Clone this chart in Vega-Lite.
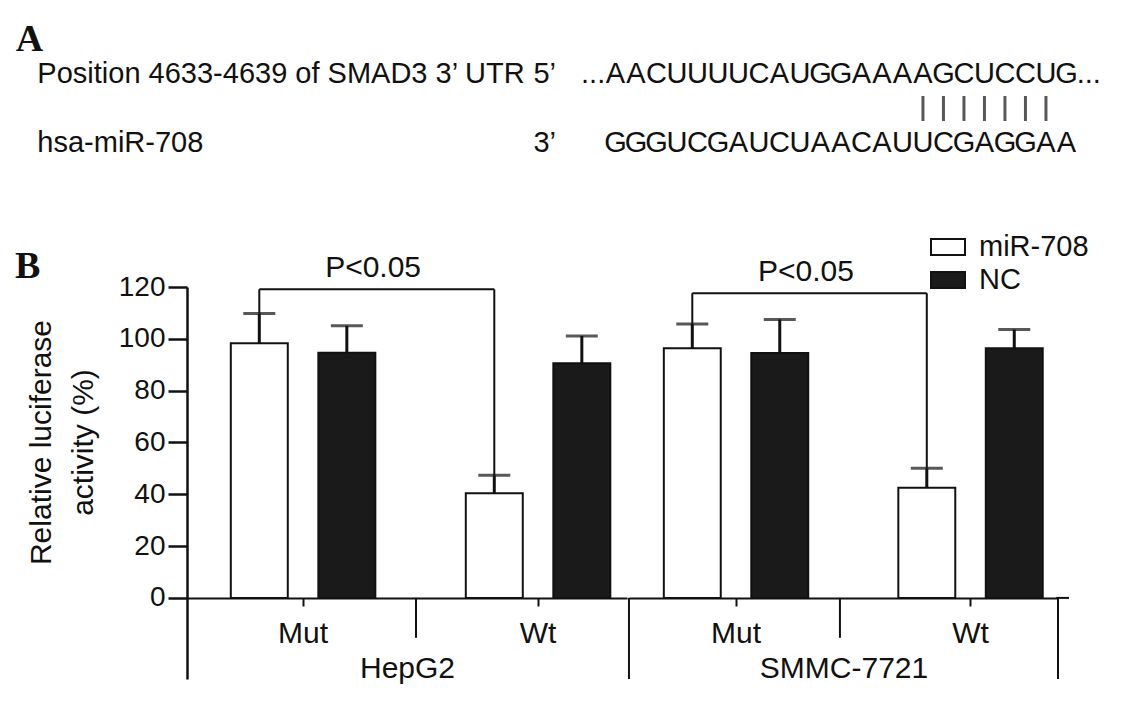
{
  "$schema": "https://vega.github.io/schema/vega-lite/v6.json",
  "background": "white",
  "padding": {"left": 15, "top": 21, "right": 5, "bottom": 5},
  "config": {"view": {"stroke": null}, "font": "Liberation Sans", "axis": {"grid": false}},
  "datasets": {
    "seq": [
      {"strand": "utr", "pos": 1, "base": "A"}, {"strand": "utr", "pos": 2, "base": "A"}, {"strand": "utr", "pos": 3, "base": "C"},
      {"strand": "utr", "pos": 4, "base": "U"}, {"strand": "utr", "pos": 5, "base": "U"}, {"strand": "utr", "pos": 6, "base": "U"},
      {"strand": "utr", "pos": 7, "base": "U"}, {"strand": "utr", "pos": 8, "base": "C"}, {"strand": "utr", "pos": 9, "base": "A"},
      {"strand": "utr", "pos": 10, "base": "U"}, {"strand": "utr", "pos": 11, "base": "G"}, {"strand": "utr", "pos": 12, "base": "G"},
      {"strand": "utr", "pos": 13, "base": "A"}, {"strand": "utr", "pos": 14, "base": "A"}, {"strand": "utr", "pos": 15, "base": "A"},
      {"strand": "utr", "pos": 16, "base": "A"}, {"strand": "utr", "pos": 17, "base": "G"}, {"strand": "utr", "pos": 18, "base": "C"},
      {"strand": "utr", "pos": 19, "base": "U"}, {"strand": "utr", "pos": 20, "base": "C"}, {"strand": "utr", "pos": 21, "base": "C"},
      {"strand": "utr", "pos": 22, "base": "U"}, {"strand": "utr", "pos": 23, "base": "G"},
      {"strand": "mir", "pos": 1, "base": "G"}, {"strand": "mir", "pos": 2, "base": "G"}, {"strand": "mir", "pos": 3, "base": "G"},
      {"strand": "mir", "pos": 4, "base": "U"}, {"strand": "mir", "pos": 5, "base": "C"}, {"strand": "mir", "pos": 6, "base": "G"},
      {"strand": "mir", "pos": 7, "base": "A"}, {"strand": "mir", "pos": 8, "base": "U"}, {"strand": "mir", "pos": 9, "base": "C"},
      {"strand": "mir", "pos": 10, "base": "U"}, {"strand": "mir", "pos": 11, "base": "A"}, {"strand": "mir", "pos": 12, "base": "A"},
      {"strand": "mir", "pos": 13, "base": "C"}, {"strand": "mir", "pos": 14, "base": "A"}, {"strand": "mir", "pos": 15, "base": "U"},
      {"strand": "mir", "pos": 16, "base": "U"}, {"strand": "mir", "pos": 17, "base": "C"}, {"strand": "mir", "pos": 18, "base": "G"},
      {"strand": "mir", "pos": 19, "base": "A"}, {"strand": "mir", "pos": 20, "base": "G"}, {"strand": "mir", "pos": 21, "base": "G"},
      {"strand": "mir", "pos": 22, "base": "A"}, {"strand": "mir", "pos": 23, "base": "A"}
    ],
    "pairs": [{"pos": 16}, {"pos": 17}, {"pos": 18}, {"pos": 19}, {"pos": 20}, {"pos": 21}, {"pos": 22}],
    "labels": [
      {"strand": "A", "part": "panelA", "text": "A"},
      {"strand": "utr", "part": "name", "text": "Position 4633-4639 of SMAD3 3’ UTR"},
      {"strand": "utr", "part": "end", "text": "5’"},
      {"strand": "mir", "part": "name", "text": "hsa-miR-708"},
      {"strand": "mir", "part": "end", "text": "3’"},
      {"strand": "utr", "part": "open", "text": "..."},
      {"strand": "utr", "part": "close", "text": "..."},
      {"strand": "B", "part": "panelB", "text": "B"}
    ],
    "bars": [
      {"cell": "HepG2", "construct": "Mut", "treatment": "miR-708", "mean": 98.3, "upper": 109.8},
      {"cell": "HepG2", "construct": "Mut", "treatment": "NC", "mean": 94.6, "upper": 105.0},
      {"cell": "HepG2", "construct": "Wt", "treatment": "miR-708", "mean": 40.4, "upper": 47.3},
      {"cell": "HepG2", "construct": "Wt", "treatment": "NC", "mean": 90.6, "upper": 101.1},
      {"cell": "SMMC-7721", "construct": "Mut", "treatment": "miR-708", "mean": 96.4, "upper": 105.7},
      {"cell": "SMMC-7721", "construct": "Mut", "treatment": "NC", "mean": 94.5, "upper": 107.5},
      {"cell": "SMMC-7721", "construct": "Wt", "treatment": "miR-708", "mean": 42.5, "upper": 50.0},
      {"cell": "SMMC-7721", "construct": "Wt", "treatment": "NC", "mean": 96.4, "upper": 103.6}
    ],
    "sig": [
      {"cell": "HepG2", "group1": "Mut", "group2": "Wt", "level": 119.1, "label": "P<0.05"},
      {"cell": "SMMC-7721", "group1": "Mut", "group2": "Wt", "level": 117.6, "label": "P<0.05"}
    ]
  },
  "spacing": 69,
  "vconcat": [
    {
      "width": 929,
      "height": 136.8,
      "layer": [
        {
          "data": {"name": "seq"},
          "mark": {"type": "text", "fontSize": 29, "align": "center", "baseline": "middle", "color": "#111"},
          "encoding": {
            "x": {"field": "pos", "type": "quantitative", "scale": {"domain": [-19.9, 25.417], "nice": false, "zero": false}, "axis": null},
            "y": {"field": "strand", "type": "nominal", "scale": {"type": "point", "domain": ["A", "utr", "pair", "mir"], "padding": 0.5}, "axis": null},
            "text": {"field": "base"}
          }
        },
        {
          "data": {"name": "pairs"},
          "mark": {"type": "tick", "size": 25, "thickness": 3, "color": "#111"},
          "encoding": {
            "x": {"field": "pos", "type": "quantitative", "axis": null},
            "y": {"datum": "pair", "type": "nominal", "axis": null}
          }
        },
        {
          "data": {"name": "labels"},
          "transform": [{"filter": "datum.part === 'name'"}],
          "mark": {"type": "text", "fontSize": 29, "align": "left", "baseline": "middle", "color": "#111"},
          "encoding": {
            "x": {"datum": -27.2, "type": "quantitative", "axis": null},
            "y": {"field": "strand", "type": "nominal", "axis": null},
            "text": {"field": "text"}
          }
        },
        {
          "data": {"name": "labels"},
          "transform": [{"filter": "datum.part === 'end'"}],
          "mark": {"type": "text", "fontSize": 29, "align": "left", "baseline": "middle", "color": "#111"},
          "encoding": {
            "x": {"datum": -3.0, "type": "quantitative", "axis": null},
            "y": {"field": "strand", "type": "nominal", "axis": null},
            "text": {"field": "text"}
          }
        },
        {
          "data": {"name": "labels"},
          "transform": [{"filter": "datum.part === 'open'"}],
          "mark": {"type": "text", "fontSize": 29, "align": "right", "baseline": "middle", "color": "#111"},
          "encoding": {
            "x": {"datum": 0.5, "type": "quantitative", "axis": null},
            "y": {"field": "strand", "type": "nominal", "axis": null},
            "text": {"field": "text"}
          }
        },
        {
          "data": {"name": "labels"},
          "transform": [{"filter": "datum.part === 'close'"}],
          "mark": {"type": "text", "fontSize": 29, "align": "left", "baseline": "middle", "color": "#111"},
          "encoding": {
            "x": {"datum": 23.5, "type": "quantitative", "axis": null},
            "y": {"field": "strand", "type": "nominal", "axis": null},
            "text": {"field": "text"}
          }
        },
        {
          "data": {"name": "labels"},
          "transform": [{"filter": "datum.part === 'panelA'"}],
          "mark": {"type": "text", "fontSize": 38, "font": "Liberation Serif", "fontWeight": "bold", "align": "left", "baseline": "middle", "color": "#111"},
          "encoding": {
            "x": {"datum": -28.25, "type": "quantitative", "axis": null},
            "y": {"field": "strand", "type": "nominal", "axis": null},
            "text": {"field": "text"}
          }
        }
      ]
    },
    {
      "spacing": 0,
      "resolve": {
        "scale": {"x": "independent", "xOffset": "independent", "y": "independent", "fill": "independent"},
        "legend": {"fill": "independent"}
      },
      "hconcat": [
        {
          "width": 440,
          "height": 392,
          "layer": [
            {
              "data": {"name": "bars"},
              "transform": [{"filter": "datum.cell === 'HepG2'"}],
              "mark": {"type": "bar", "stroke": "#111", "strokeWidth": 2},
              "encoding": {
                "x": {
                  "field": "construct", "type": "nominal",
                  "scale": {"domain": ["Mut", "Wt"], "paddingInner": 0.255, "paddingOuter": 0.0637, "align": 0.953},
                  "axis": {"title": "HepG2", "orient": "bottom", "offset": -81, "labelAngle": 0, "domainColor": "#111", "domainWidth": 2, "tickColor": "#111", "tickWidth": 2, "tickSize": 8, "labelFontSize": 30, "labelColor": "#111", "labelPadding": 12, "titleFontSize": 30, "titleFontWeight": "normal", "titleColor": "#111", "titlePadding": 5}
                },
                "xOffset": {"field": "treatment", "type": "nominal", "scale": {"domain": ["miR-708", "NC"], "paddingInner": 0.349, "paddingOuter": 0.1745}},
                "y": {
                  "field": "mean", "type": "quantitative",
                  "scale": {"domain": [-31.3, 120], "nice": false, "zero": false},
                  "axis": {"title": ["Relative luciferase", "activity (%)"], "values": [0, 20, 40, 60, 80, 100, 120], "tickSize": 19, "tickWidth": 2.5, "tickColor": "#111", "domainWidth": 2.5, "domainColor": "#111", "labelFontSize": 28, "labelPadding": 3, "labelColor": "#111", "titleFontSize": 30, "titleFontWeight": "normal", "titleColor": "#111", "titleLineHeight": 42, "titleY": 155, "titlePadding": 20}
                },
                "fill": {"field": "treatment", "type": "nominal", "scale": {"domain": ["miR-708", "NC"], "range": ["#ffffff", "#1a1a1a"]}, "legend": null}
              }
            },
            {
              "data": {"name": "bars"},
              "transform": [{"filter": "datum.cell === 'HepG2'"}],
              "mark": {"type": "rule", "strokeWidth": 3, "color": "#111"},
              "encoding": {
                "x": {"field": "construct", "type": "nominal"},
                "xOffset": {"field": "treatment", "type": "nominal"},
                "y": {"field": "mean", "type": "quantitative"},
                "y2": {"field": "upper"}
              }
            },
            {
              "data": {"name": "bars"},
              "transform": [{"filter": "datum.cell === 'HepG2'"}],
              "mark": {"type": "tick", "size": 32, "thickness": 3, "color": "#111"},
              "encoding": {
                "x": {"field": "construct", "type": "nominal"},
                "xOffset": {"field": "treatment", "type": "nominal"},
                "y": {"field": "upper", "type": "quantitative"}
              }
            },
            {
              "data": {"name": "bars"},
              "transform": [
                {"filter": "datum.cell === 'HepG2' && datum.treatment === 'miR-708'"},
                {"lookup": "cell", "from": {"data": {"name": "sig"}, "key": "cell", "fields": ["level"]}}
              ],
              "mark": {"type": "rule", "strokeWidth": 2, "color": "#111"},
              "encoding": {
                "x": {"field": "construct", "type": "nominal", "bandPosition": 0.25},
                "y": {"field": "upper", "type": "quantitative"},
                "y2": {"field": "level"}
              }
            },
            {
              "data": {"name": "sig"},
              "transform": [{"filter": "datum.cell === 'HepG2'"}],
              "mark": {"type": "rule", "strokeWidth": 2, "color": "#111"},
              "encoding": {
                "x": {"field": "group1", "type": "nominal", "bandPosition": 0.25},
                "x2": {"field": "group2", "bandPosition": 0.25},
                "y": {"field": "level", "type": "quantitative"}
              }
            },
            {
              "data": {"name": "sig"},
              "transform": [{"filter": "datum.cell === 'HepG2'"}],
              "mark": {"type": "text", "fontSize": 30, "align": "center", "baseline": "alphabetic", "dy": -12, "color": "#111"},
              "encoding": {
                "x": {"field": "group1", "type": "nominal", "bandPosition": 0.9},
                "y": {"field": "level", "type": "quantitative"},
                "text": {"field": "label"}
              }
            },
            {
              "data": {"name": "sig"},
              "transform": [{"filter": "datum.cell === 'HepG2'"}],
              "mark": {"type": "rule", "strokeWidth": 2, "color": "#111"},
              "encoding": {
                "x": {"datum": "Mut", "type": "nominal", "bandPosition": 1.145},
                "y": {"datum": 0, "type": "quantitative"},
                "y2": {"datum": -15.4}
              }
            },
            {
              "data": {"name": "labels"},
              "transform": [{"filter": "datum.part === 'panelB'"}],
              "mark": {"type": "text", "fontSize": 38, "font": "Liberation Serif", "fontWeight": "bold", "align": "left", "baseline": "middle", "color": "#111"},
              "encoding": {
                "x": {"datum": "Mut", "type": "nominal", "bandPosition": -1.145},
                "y": {"datum": 127.9, "type": "quantitative"},
                "text": {"field": "text"}
              }
            }
          ]
        },
        {
          "width": 429,
          "height": 392,
          "layer": [
            {
              "data": {"name": "bars"},
              "transform": [{"filter": "datum.cell === 'SMMC-7721'"}],
              "mark": {"type": "bar", "stroke": "#111", "strokeWidth": 2},
              "encoding": {
                "x": {
                  "field": "construct", "type": "nominal",
                  "scale": {"domain": ["Mut", "Wt"], "paddingInner": 0.254, "paddingOuter": 0.0417, "align": 1},
                  "axis": {"title": "SMMC-7721", "orient": "bottom", "offset": -81, "labelAngle": 0, "domainColor": "#111", "domainWidth": 2, "tickColor": "#111", "tickWidth": 2, "tickSize": 8, "labelFontSize": 30, "labelColor": "#111", "labelPadding": 12, "titleFontSize": 30, "titleFontWeight": "normal", "titleColor": "#111", "titlePadding": 5}
                },
                "xOffset": {"field": "treatment", "type": "nominal", "scale": {"domain": ["miR-708", "NC"], "paddingInner": 0.349, "paddingOuter": 0.1745}},
                "y": {"field": "mean", "type": "quantitative", "scale": {"domain": [-31.3, 120], "nice": false, "zero": false}, "axis": null},
                "fill": {
                  "field": "treatment", "type": "nominal",
                  "scale": {"domain": ["miR-708", "NC"], "range": ["#ffffff", "#1a1a1a"]},
                  "legend": {"orient": "none", "legendX": 301, "legendY": -58, "title": null, "symbolType": "M-1,-0.47H1V0.47H-1Z", "symbolSize": 1156, "symbolStrokeColor": "#111", "symbolStrokeWidth": 2, "symbolOpacity": 1, "labelFontSize": 29, "labelColor": "#111", "labelOffset": 13, "rowPadding": 0, "padding": 0}
                }
              }
            },
            {
              "data": {"name": "bars"},
              "transform": [{"filter": "datum.cell === 'SMMC-7721'"}],
              "mark": {"type": "rule", "strokeWidth": 3, "color": "#111"},
              "encoding": {
                "x": {"field": "construct", "type": "nominal"},
                "xOffset": {"field": "treatment", "type": "nominal"},
                "y": {"field": "mean", "type": "quantitative", "axis": null},
                "y2": {"field": "upper"}
              }
            },
            {
              "data": {"name": "bars"},
              "transform": [{"filter": "datum.cell === 'SMMC-7721'"}],
              "mark": {"type": "tick", "size": 32, "thickness": 3, "color": "#111"},
              "encoding": {
                "x": {"field": "construct", "type": "nominal"},
                "xOffset": {"field": "treatment", "type": "nominal"},
                "y": {"field": "upper", "type": "quantitative", "axis": null}
              }
            },
            {
              "data": {"name": "bars"},
              "transform": [
                {"filter": "datum.cell === 'SMMC-7721' && datum.treatment === 'miR-708'"},
                {"lookup": "cell", "from": {"data": {"name": "sig"}, "key": "cell", "fields": ["level"]}}
              ],
              "mark": {"type": "rule", "strokeWidth": 2, "color": "#111"},
              "encoding": {
                "x": {"field": "construct", "type": "nominal", "bandPosition": 0.25},
                "y": {"field": "upper", "type": "quantitative", "axis": null},
                "y2": {"field": "level"}
              }
            },
            {
              "data": {"name": "sig"},
              "transform": [{"filter": "datum.cell === 'SMMC-7721'"}],
              "mark": {"type": "rule", "strokeWidth": 2, "color": "#111"},
              "encoding": {
                "x": {"field": "group1", "type": "nominal", "bandPosition": 0.25},
                "x2": {"field": "group2", "bandPosition": 0.25},
                "y": {"field": "level", "type": "quantitative", "axis": null}
              }
            },
            {
              "data": {"name": "sig"},
              "transform": [{"filter": "datum.cell === 'SMMC-7721'"}],
              "mark": {"type": "text", "fontSize": 30, "align": "center", "baseline": "alphabetic", "dy": -12, "color": "#111"},
              "encoding": {
                "x": {"field": "group1", "type": "nominal", "bandPosition": 0.9},
                "y": {"field": "level", "type": "quantitative", "axis": null},
                "text": {"field": "label"}
              }
            },
            {
              "data": {"name": "sig"},
              "transform": [{"filter": "datum.cell === 'SMMC-7721'"}],
              "mark": {"type": "rule", "strokeWidth": 2, "color": "#111"},
              "encoding": {
                "x": {"datum": "Mut", "type": "nominal", "bandPosition": 1.094},
                "y": {"datum": 0, "type": "quantitative", "axis": null},
                "y2": {"datum": -15.4}
              }
            },
            {
              "data": {"name": "sig"},
              "transform": [{"filter": "datum.cell === 'SMMC-7721'"}],
              "mark": {"type": "rule", "strokeWidth": 2, "color": "#111"},
              "encoding": {
                "x": {"datum": "Mut", "type": "nominal", "bandPosition": -0.112},
                "y": {"datum": 0, "type": "quantitative", "axis": null},
                "y2": {"datum": -31.3}
              }
            },
            {
              "data": {"name": "sig"},
              "transform": [{"filter": "datum.cell === 'SMMC-7721'"}],
              "mark": {"type": "rule", "strokeWidth": 2, "color": "#111"},
              "encoding": {
                "x": {"datum": "Wt", "type": "nominal", "bandPosition": 1.0},
                "y": {"datum": 0, "type": "quantitative", "axis": null},
                "y2": {"datum": -31.3}
              }
            },
            {
              "data": {"name": "sig"},
              "transform": [{"filter": "datum.cell === 'SMMC-7721'"}],
              "mark": {"type": "rule", "strokeWidth": 2, "color": "#111"},
              "encoding": {
                "x": {"datum": "Wt", "type": "nominal", "bandPosition": 0.99},
                "x2": {"datum": "Wt", "bandPosition": 1.063},
                "y": {"datum": 0, "type": "quantitative", "axis": null}
              }
            }
          ]
        }
      ]
    }
  ]
}
